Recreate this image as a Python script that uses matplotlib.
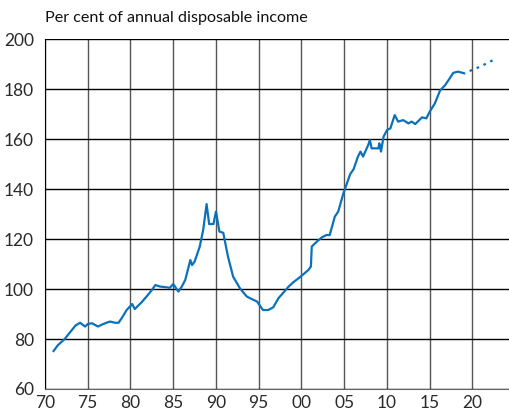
import matplotlib
matplotlib.use("Agg")
import matplotlib.pyplot as plt

# household debt, per cent of annual disposable income
years = [1971.0, 1971.5, 1972.3, 1973.0, 1973.6, 1974.1, 1974.7, 1975.0, 1975.5,
         1976.2, 1976.8, 1977.6, 1978.2, 1978.6, 1979.0, 1979.55, 1980.2, 1980.5,
         1981.3, 1982.0, 1982.5, 1982.9, 1983.45, 1984.2, 1984.6, 1985.0, 1985.3,
         1985.6, 1986.0, 1986.4, 1987.0, 1987.2, 1987.5, 1988.1, 1988.5, 1988.9,
         1989.2, 1989.7, 1990.0, 1990.4, 1990.85, 1991.4, 1992.0, 1992.8, 1993.6,
         1994.0, 1994.8, 1995.5, 1996.1, 1996.7, 1997.3, 1998.5, 1999.0, 1999.8,
         2000.8, 2001.1, 2001.2, 2001.8, 2002.4, 2002.9, 2003.3, 2003.9, 2004.3,
         2004.9, 2005.7, 2006.1, 2006.6, 2006.9, 2007.2, 2007.8, 2008.0, 2008.2,
         2009.0, 2009.1, 2009.3, 2009.6, 2010.0, 2010.4, 2010.9, 2011.3, 2011.9,
         2012.5, 2012.9, 2013.3, 2014.1, 2014.6, 2015.0, 2015.6, 2016.2, 2016.8,
         2017.2, 2017.75, 2018.3, 2018.85]
debt = [75.2, 77.5, 80.0, 83.0, 85.5, 86.5, 85.0, 86.0, 86.3,
        85.0, 86.0, 87.0, 86.5, 86.5, 88.5, 91.6, 94.0, 92.0,
        94.7, 97.5, 99.6, 101.6, 101.0, 100.7, 100.5, 102.0, 100.5,
        99.0, 101.0, 103.6, 111.6, 109.6, 111.0, 117.0, 123.6, 134.0,
        126.0, 126.0, 131.0, 123.0, 122.5, 113.0, 105.0, 100.3, 97.0,
        96.3, 95.0, 91.6, 91.6, 92.7, 96.3, 101.0, 102.6, 104.7,
        107.6, 109.0, 117.0, 119.0, 120.7, 121.6, 121.6, 129.0, 131.0,
        138.3, 146.0, 148.0, 153.0, 155.0, 153.0, 157.6, 159.6, 156.3,
        156.3, 158.3, 155.0, 161.0, 163.6, 164.3, 169.6, 167.0, 167.6,
        166.3, 167.0, 166.0, 168.7, 168.3, 171.0, 174.3, 179.4, 181.6,
        183.6, 186.5, 187.0, 186.5]
# projection (dotted)
proj_years = [2018.85, 2019.1, 2019.9, 2020.9, 2022.4]
proj_debt = [186.5, 186.3, 187.6, 189.0, 191.6]

xticks = [1970, 1975, 1980, 1985, 1990, 1995, 2000, 2005, 2010, 2015, 2020]
xlabels = ["70", "75", "80", "85", "90", "95", "00", "05", "10", "15", "20"]
yticks = [60, 80, 100, 120, 140, 160, 180, 200]

plt.rcParams['font.family'] = ['Lato', 'DejaVu Sans']

fig = plt.figure(figsize=(5.09, 4.19), dpi=100)
ax = fig.add_axes([0.0884, 0.0716, 0.9116, 0.835])

blue = '#0a72bb'
ax.plot(years, debt, color=blue, lw=1.6, zorder=3)
ax.plot(proj_years, proj_debt, color=blue, lw=1.6, ls=(0, (1.2, 2.2)), zorder=3)

ax.set_xlim(1970, 2024.27)
ax.set_ylim(60, 200)
ax.set_xticks(xticks)
ax.set_xticklabels(xlabels)
ax.set_yticks(yticks)

ax.grid(axis='y', color='black', lw=1.0)
ax.grid(axis='x', color='#555555', lw=1.0)
ax.set_axisbelow(True)
ax.tick_params(length=0, labelsize=12.5, colors='#2a2a2a')
ax.tick_params(axis='y', pad=8)
ax.tick_params(axis='x', pad=4)

for s in ['top', 'right']:
    ax.spines[s].set_visible(False)
ax.spines['left'].set_color('black')
ax.spines['bottom'].set_color('#666666')

fig.text(0.0884, 0.958, "Per cent of annual disposable income", fontsize=11.6,
         color='#111111', ha='left', va='center')

plt.savefig('out.png', dpi=100)
